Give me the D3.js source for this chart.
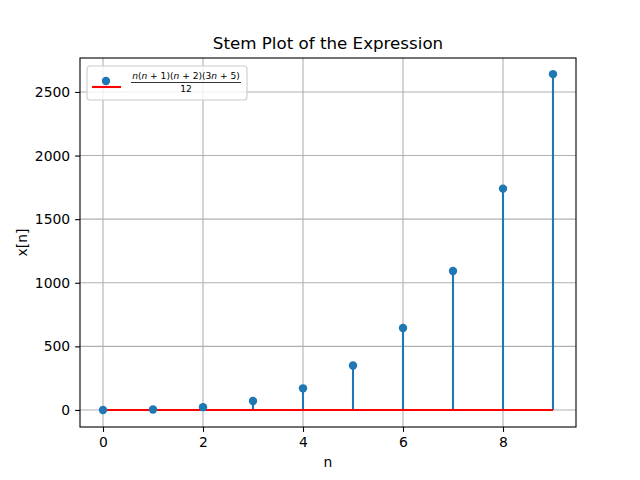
<!DOCTYPE html>
<html>
<head>
<meta charset="utf-8">
<script src="https://cdn.jsdelivr.net/npm/d3@7"></script>
<style>
  body { margin: 0; background: #fff; }
  text { font-family: "DejaVu Sans", sans-serif; }
</style>
</head>
<body>
<div id="chart"></div>
<script>
// stem data
const nValues = [0, 1, 2, 3, 4, 5, 6, 7, 8, 9];
const xValues = [0, 4, 22, 70, 170, 350, 644, 1092, 1740, 2640];
const xTicks = [0, 2, 4, 6, 8];
const yTicks = [0, 500, 1000, 1500, 2000, 2500];

const width = 640, height = 480,
      margin = ({top: 58, right: 64, bottom: 53, left: 80});

let svg = d3.select("#chart")
    .append("svg")
    .attr("width", width)
    .attr("height", height);

let x = d3.scaleLinear()
    .domain([-0.46, 9.46])
    .range([margin.left, width - margin.right]);

let y = d3.scaleLinear()
    .domain([-134, 2767])
    .range([height - margin.bottom, margin.top]);

// grid
svg.append("g")
    .selectAll("line")
    .data(xTicks)
    .join("line")
    .attr("x1", d => x(d)).attr("x2", d => x(d))
    .attr("y1", margin.top).attr("y2", height - margin.bottom)
    .attr("stroke", "#b0b0b0").attr("stroke-width", 1.1);

svg.append("g")
    .selectAll("line")
    .data(yTicks)
    .join("line")
    .attr("x1", margin.left).attr("x2", width - margin.right)
    .attr("y1", d => y(d)).attr("y2", d => y(d))
    .attr("stroke", "#b0b0b0").attr("stroke-width", 1.1);

// axes
let xAxis = svg.append("g")
    .attr("transform", `translate(0,${height - margin.bottom})`)
    .call(d3.axisBottom(x).tickValues(xTicks).tickSize(4.9).tickPadding(4.9));

let yAxis = svg.append("g")
    .attr("transform", `translate(${margin.left},0)`)
    .call(d3.axisLeft(y).tickValues(yTicks).tickSize(4.9).tickPadding(4.9).tickFormat(d3.format("d")));

for (let ax of [xAxis, yAxis]) {
    ax.select(".domain").remove();
    ax.selectAll("text").attr("font-size", 13.9).attr("fill", "#000")
        .attr("font-family", "DejaVu Sans, sans-serif");
    ax.selectAll("line").attr("stroke", "#000").attr("stroke-width", 1.1);
}

// stems
svg.append("g")
    .selectAll("line")
    .data(nValues)
    .join("line")
    .attr("x1", d => x(d)).attr("x2", d => x(d))
    .attr("y1", y(0)).attr("y2", (d, i) => y(xValues[i]))
    .attr("stroke", "#1f77b4").attr("stroke-width", 2.1);

// baseline
svg.append("line")
    .attr("x1", x(d3.min(nValues))).attr("x2", x(d3.max(nValues)))
    .attr("y1", y(0)).attr("y2", y(0))
    .attr("stroke", "red").attr("stroke-width", 2.1);

// markers
svg.append("g")
    .selectAll("circle")
    .data(nValues)
    .join("circle")
    .attr("cx", d => x(d))
    .attr("cy", (d, i) => y(xValues[i]))
    .attr("r", 4.2)
    .attr("fill", "#1f77b4");

// frame
svg.append("rect")
    .attr("x", margin.left).attr("y", margin.top)
    .attr("width", width - margin.left - margin.right)
    .attr("height", height - margin.top - margin.bottom)
    .attr("fill", "none").attr("stroke", "#000").attr("stroke-width", 1.1);

// title and labels
svg.append("text")
    .attr("x", (margin.left + width - margin.right) / 2).attr("y", 49)
    .attr("text-anchor", "middle").attr("font-size", 16.7)
    .text("Stem Plot of the Expression");

svg.append("text")
    .attr("x", (margin.left + width - margin.right) / 2).attr("y", 467)
    .attr("text-anchor", "middle").attr("font-size", 13.9)
    .text("n");

svg.append("text")
    .attr("transform", `translate(27,${(margin.top + height - margin.bottom) / 2}) rotate(-90)`)
    .attr("text-anchor", "middle").attr("font-size", 13.9)
    .text("x[n]");

// legend
let legend = svg.append("g").attr("transform", "translate(87,66)");
legend.append("rect")
    .attr("width", 160).attr("height", 34).attr("rx", 3)
    .attr("fill", "#fff").attr("fill-opacity", 0.8)
    .attr("stroke", "#ccc").attr("stroke-width", 1.1);
legend.append("line")
    .attr("x1", 5).attr("x2", 34).attr("y1", 21).attr("y2", 21)
    .attr("stroke", "red").attr("stroke-width", 2.1);
legend.append("circle")
    .attr("cx", 19).attr("cy", 15).attr("r", 4.2).attr("fill", "#1f77b4");

let num = legend.append("text")
    .attr("x", 99).attr("y", 13)
    .attr("text-anchor", "middle").attr("font-size", 9.1);
const numParts = [["n", true], ["(", false], ["n", true], [" + 1)(", false], ["n", true],
                  [" + 2)(3", false], ["n", true], [" + 5)", false]];
for (let [t, it] of numParts) {
    num.append("tspan").attr("font-style", it ? "italic" : "normal").text(t);
}
legend.append("line")
    .attr("x1", 44).attr("x2", 154).attr("y1", 16.5).attr("y2", 16.5)
    .attr("stroke", "#000").attr("stroke-width", 0.8);
legend.append("text")
    .attr("x", 99).attr("y", 25.5)
    .attr("text-anchor", "middle").attr("font-size", 9.1)
    .text("12");
</script>
</body>
</html>
